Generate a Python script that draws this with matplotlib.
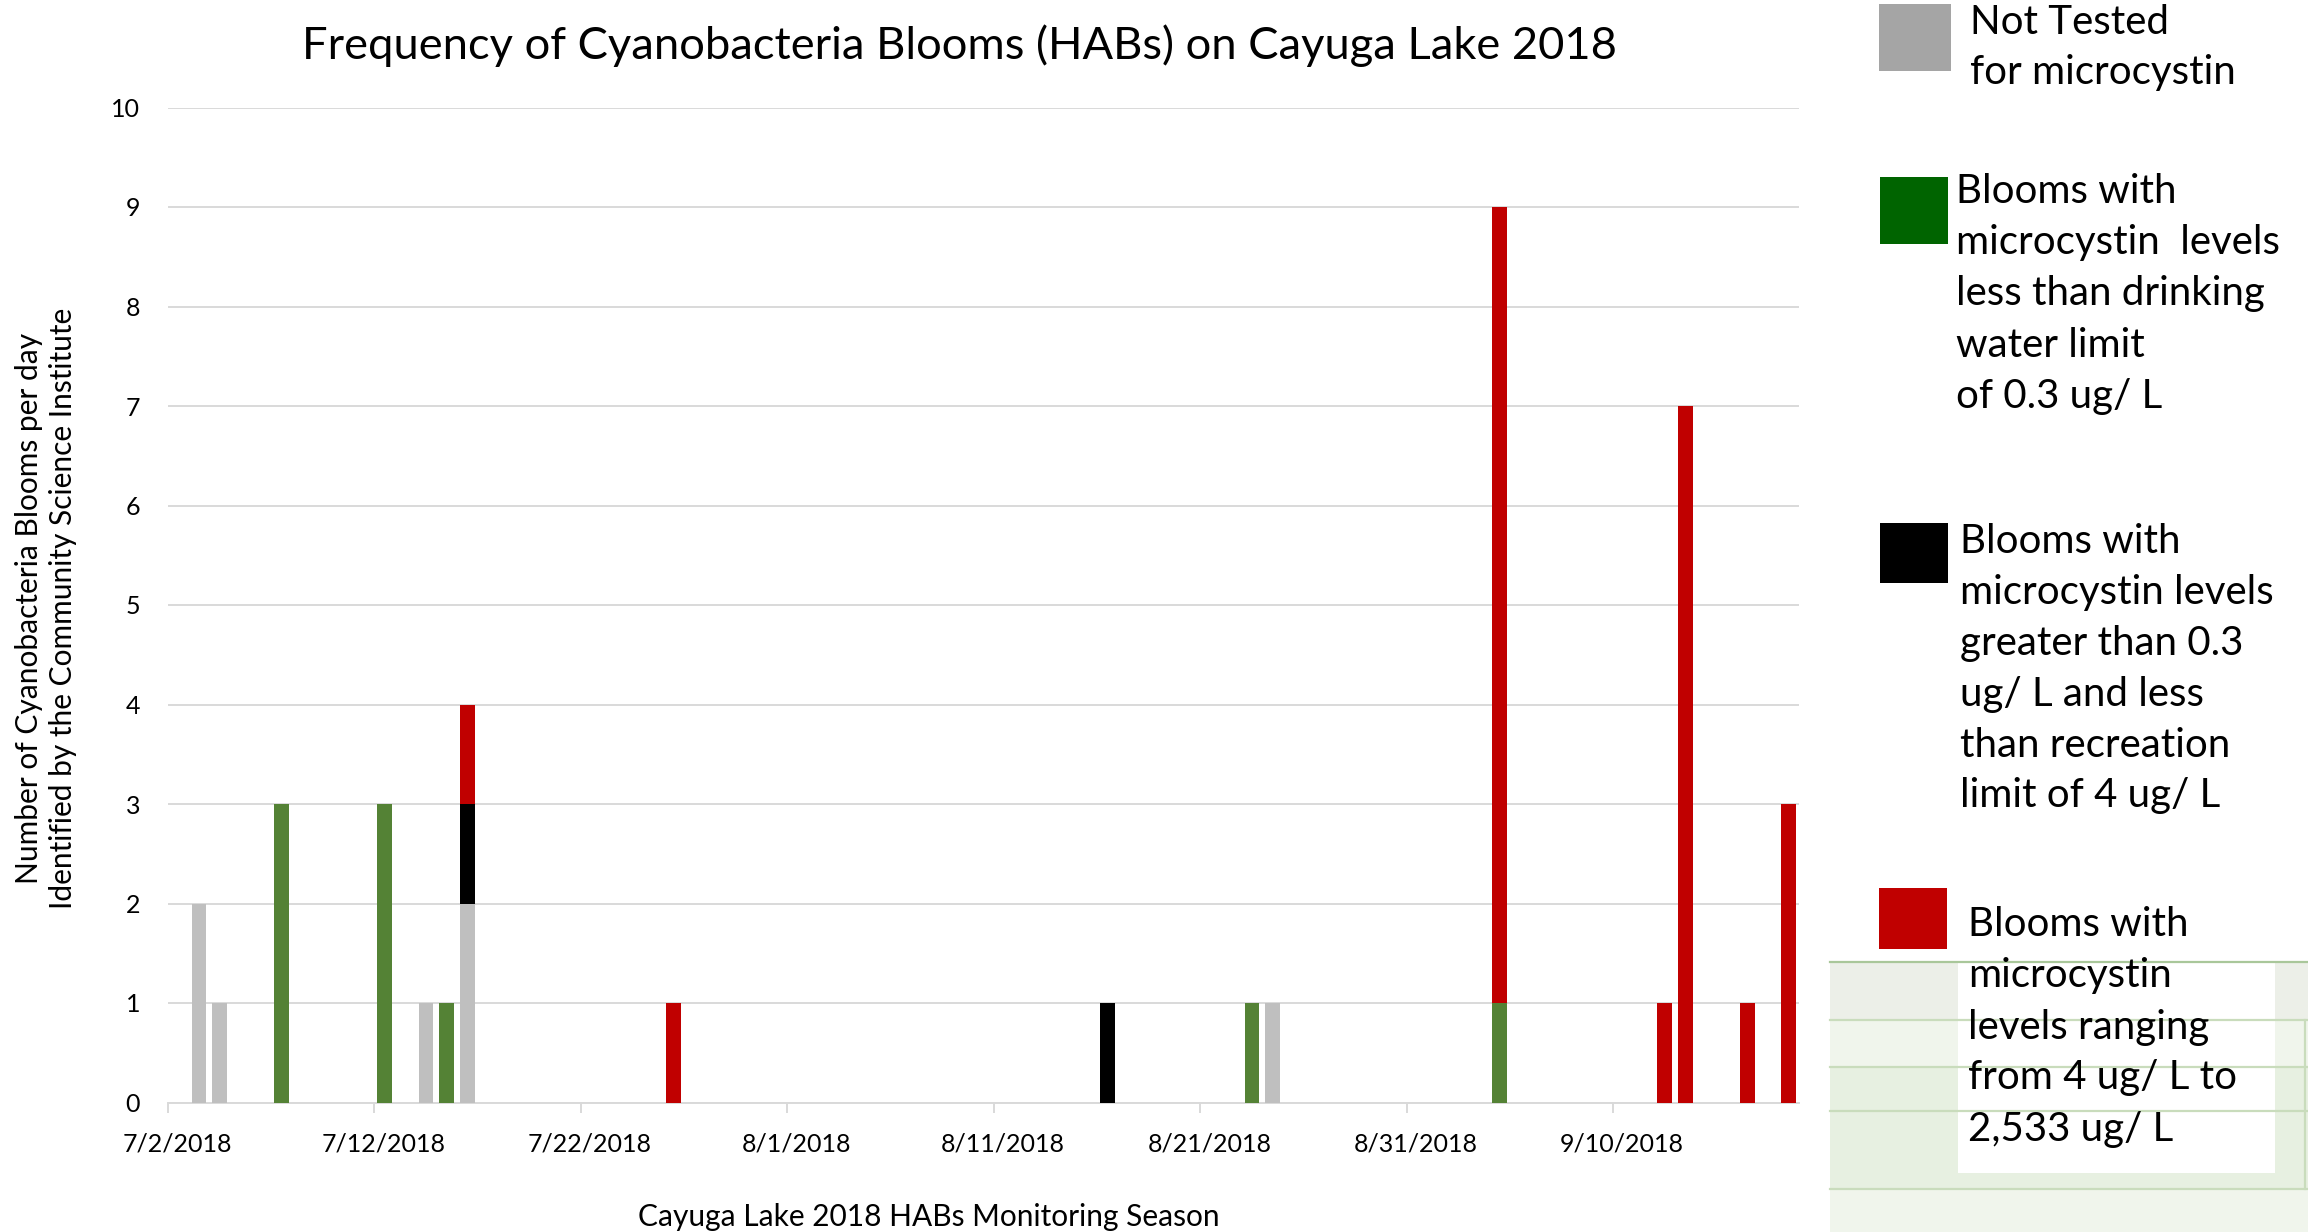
import datetime as dt
import matplotlib
matplotlib.use("Agg")
import matplotlib.pyplot as plt
import matplotlib.dates as mdates
from matplotlib.patches import Rectangle
from matplotlib.transforms import ScaledTranslation

plt.rcParams["font.family"] = ["Lato", "DejaVu Sans"]

# ---- data -------------------------------------------------------------
sample_dates = ["2018-07-03", "2018-07-04", "2018-07-07", "2018-07-12",
                "2018-07-14", "2018-07-15", "2018-07-16", "2018-07-26",
                "2018-08-16", "2018-08-23", "2018-08-24", "2018-09-04",
                "2018-09-12", "2018-09-13", "2018-09-16", "2018-09-18"]
not_tested       = [2, 1, 0, 0, 1, 0, 2, 0, 0, 0, 1, 0, 0, 0, 0, 0]
below_drinking   = [0, 0, 3, 3, 0, 1, 0, 0, 0, 1, 0, 1, 0, 0, 0, 0]
below_recreation = [0, 0, 0, 0, 0, 0, 1, 0, 1, 0, 0, 0, 0, 0, 0, 0]
above_recreation = [0, 0, 0, 0, 0, 0, 1, 1, 0, 0, 0, 8, 1, 7, 1, 3]

tick_dates  = ["2018-07-02", "2018-07-12", "2018-07-22", "2018-08-01",
               "2018-08-11", "2018-08-21", "2018-08-31", "2018-09-10"]
tick_labels = ["7/2/2018", "7/12/2018", "7/22/2018", "8/1/2018",
               "8/11/2018", "8/21/2018", "8/31/2018", "9/10/2018"]
axis_start, axis_end = "2018-07-02", "2018-09-19"

series = [
    (not_tested,       "#BFBFBF"),
    (below_drinking,   "#548235"),
    (below_recreation, "#000000"),
    (above_recreation, "#C00000"),
]

legend_entries = [
    ("#A5A5A5", ["Not Tested", "for microcystin"]),
    ("#006400", ["Blooms with", "microcystin  levels", "less than drinking",
                 "water limit", "of 0.3 ug/ L"]),
    ("#000000", ["Blooms with", "microcystin levels", "greater than 0.3",
                 "ug/ L and less", "than recreation", "limit of 4 ug/ L"]),
    ("#C00000", ["Blooms with", "microcystin", "levels ranging",
                 "from 4 ug/ L to", "2,533 ug/ L"]),
]

title = "Frequency of Cyanobacteria Blooms (HABs) on Cayuga Lake 2018"
ylabel = "Number of Cyanobacteria Blooms per day\nIdentified by the Community Science Institute"
xlabel = "Cayuga Lake 2018 HABs Monitoring Season"


def to_num(s):
    return mdates.date2num(dt.datetime.strptime(s, "%Y-%m-%d"))


W, H = 2308, 1232
fig = plt.figure(figsize=(W / 100, H / 100), dpi=100)
fig.patch.set_facecolor("white")

left, right, top, bottom = 168, 1799, 107.5, 1102.5
ax = fig.add_axes([left / W, 1 - bottom / H, (right - left) / W, (bottom - top) / H])

# each day occupies one slot; bars sit in the middle of their slot
x = [to_num(d) + 0.5 for d in sample_dates]
base = [0] * len(x)
for values, color in series:
    ax.bar(x, values, width=0.71, bottom=base, color=color, linewidth=0, zorder=3)
    base = [b + v for b, v in zip(base, values)]

ax.set_xlim(to_num(axis_start), to_num(axis_end))
ax.set_ylim(0, 10)
ax.set_yticks(range(0, 11))
ax.grid(axis="y", color="#D9D9D9", linewidth=1.4, zorder=0)
ax.set_axisbelow(True)
for s in ["left", "right", "top"]:
    ax.spines[s].set_visible(False)
ax.spines["bottom"].set_color("#D9D9D9")
ax.spines["bottom"].set_linewidth(1.4)

ax.set_xticks([to_num(d) for d in tick_dates])
ax.set_xticklabels(tick_labels)
ax.tick_params(axis="x", length=7.5, width=1.4, color="#D9D9D9", pad=14,
               labelsize=18, labelcolor="#000000")
ax.tick_params(axis="y", length=0, pad=20, labelsize=18, labelcolor="#000000")
for lab in ax.get_xticklabels():
    lab.set_transform(lab.get_transform() + ScaledTranslation(0.09, 0, fig.dpi_scale_trans))

# overlay in pixel coordinates for titles, legend and the table fragment
ov = fig.add_axes([0, 0, 1, 1], zorder=5)
ov.set_xlim(0, W)
ov.set_ylim(H, 0)
ov.axis("off")
ov.patch.set_alpha(0)

ov.text(959, 59, title, ha="center", va="baseline", fontsize=32.6, color="#000000")
ov.text(46, 608, ylabel, ha="center", va="center", rotation=90, fontsize=21.5,
        linespacing=1.28, multialignment="center")
ov.text(929, 1226, xlabel, ha="center", va="baseline", fontsize=21.5)

# table fragment at the lower right
ov.add_patch(Rectangle((1830, 962), W - 1830, H - 962, facecolor="#F0F5EC", edgecolor="none"))
ov.add_patch(Rectangle((1830, 962), W - 1830, 58, facecolor="#ECEFE8", edgecolor="none"))
ov.add_patch(Rectangle((1830, 1067), W - 1830, 122, facecolor="#E7F0E1", edgecolor="none"))
ov.plot([1830, W], [962, 962], color="#A9C79A", lw=1.6)
for yy in [1020, 1067, 1111, 1189]:
    ov.plot([1830, W], [yy, yy], color="#C9DCBC", lw=1.6)
ov.plot([2305, 2305], [1020, 1189], color="#C9DCBC", lw=1.6)
ov.add_patch(Rectangle((1958, 900), 2275 - 1958, 1173 - 900, facecolor="white", edgecolor="none"))

# legend
patch_boxes = [(1879, 4, 72, 67), (1880, 177, 68, 67), (1880, 523, 68, 60), (1879, 888, 68, 61)]
text_x = [1970, 1956, 1960, 1968]
first_baselines = [34, 203, 553, 936.5]
spacings = [50, 51.2, 50.9, 51.0]
for (color, lines), (px, py, pw, ph), tx, b0, sp in zip(
        legend_entries, patch_boxes, text_x, first_baselines, spacings):
    ov.add_patch(Rectangle((px, py), pw, ph, facecolor=color, edgecolor="none"))
    for i, line in enumerate(lines):
        ov.text(tx, b0 + i * sp, line, ha="left", va="baseline", fontsize=29, color="#000000")

fig.savefig("out.png", dpi=100)
